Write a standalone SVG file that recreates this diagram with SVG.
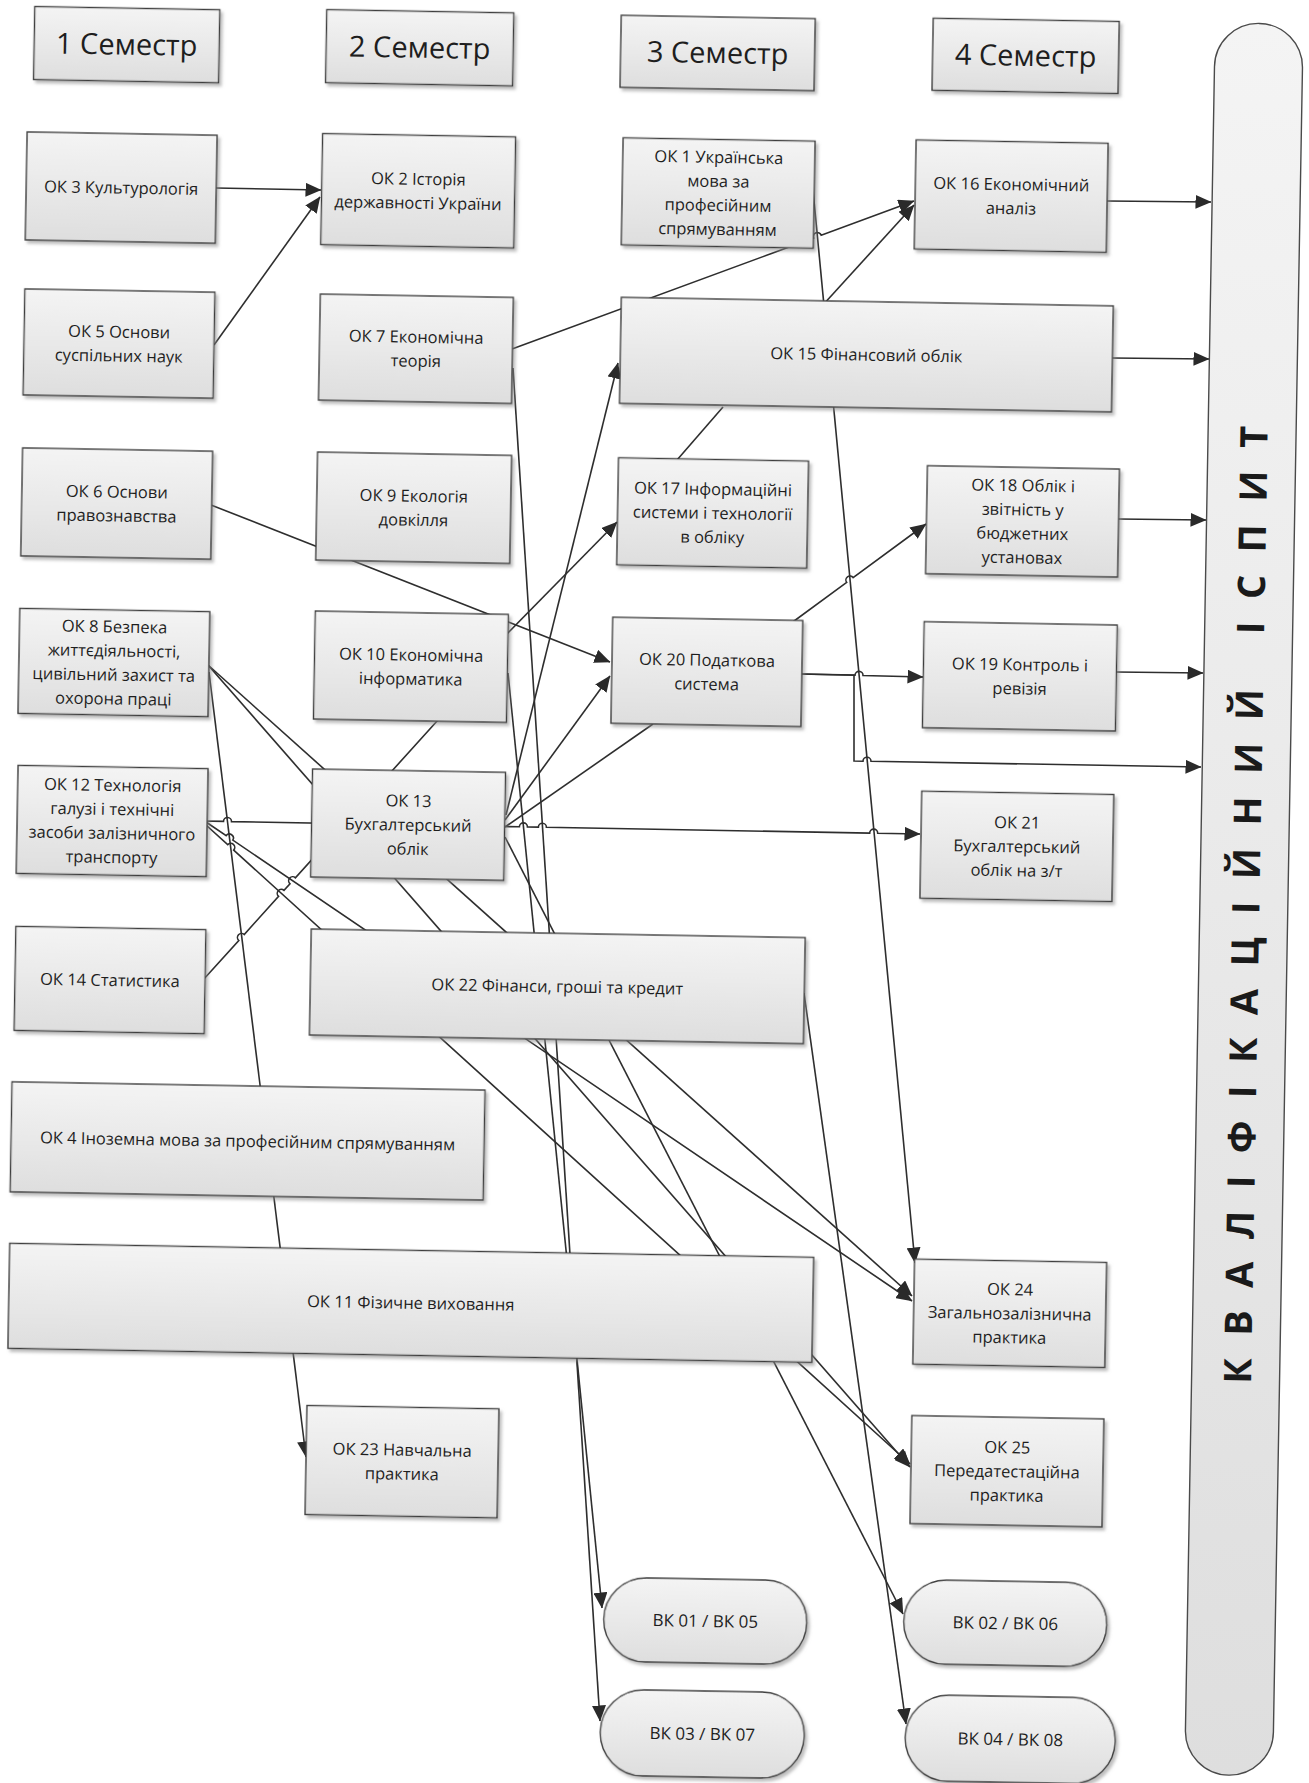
<svg xmlns="http://www.w3.org/2000/svg" width="1309" height="1783" viewBox="0 0 1309 1783">
<defs>
<linearGradient id="gb" x1="0" y1="0" x2="0" y2="1">
<stop offset="0" stop-color="#f4f4f4"/>
<stop offset="1" stop-color="#dedede"/>
</linearGradient>
<filter id="sh" x="-5%" y="-5%" width="115%" height="125%">
<feDropShadow dx="2.5" dy="3" stdDeviation="1.5" flood-color="#8a8a8a" flood-opacity="0.55"/>
</filter>
<marker id="ah" markerUnits="userSpaceOnUse" markerWidth="16" markerHeight="14" refX="15.5" refY="7" orient="auto">
<path d="M0,0 L16,7 L0,14 z" fill="#2a2a2a"/>
</marker>
<style>
.box{fill:url(#gb);stroke:#3d3d3d;stroke-width:1.4;filter:url(#sh)}
.pill{fill:url(#gb);stroke:#4a4a4a;stroke-width:1.4}
.t{font-family:"Open Sans","Noto Sans","DejaVu Sans",sans-serif;font-size:16.5px;fill:#1e1e1e;text-anchor:middle}
.h{font-size:29px}
.v{font-size:17px}
.q{font-family:"Open Sans","Noto Sans","DejaVu Sans",sans-serif;font-size:38px;font-weight:bold;fill:#1a1a1a;text-anchor:middle}
.c{fill:none;stroke:#2e2e2e;stroke-width:1.6}
.a{marker-end:url(#ah)}
</style>
</defs>
<rect width="1309" height="1783" fill="#ffffff"/>

<g id="connectors">
<path class="c a" d="M216,188 L321,190"/>
<path class="c a" d="M214,345 L320,197"/>
<path class="c a" d="M512,349 L813.6,238 A4,4 0 0 1 821.2,235.2 L914,201"/>
<path class="c a" d="M822,306 L914,205"/>
<path class="c a" d="M1107,201 L1211,202"/>
<path class="c a" d="M1112,358 L1209,359"/>
<path class="c a" d="M1118,519 L1206,520"/>
<path class="c a" d="M1116,672 L1203,673"/>
<path class="c a" d="M800,674 L855,675.3 A4,4 0 0 1 863,675.5 L923,677"/>
<path class="c a" d="M800,674 L854,675 L854,761 L863,761.2 A4,4 0 0 1 871,761.3 L1201,767"/>
<path class="c a" d="M790,624 L846.7,582.4 A4,4 0 0 1 853.1,577.6 L926,524"/>
<path class="c a" d="M200,821 L223.5,821.4 A4,4 0 0 1 231.5,821.6 L519.4,826.8 A4,4 0 0 1 527.4,826.9 L538.4,827.1 A4,4 0 0 1 546.4,827.3 L869.7,833.1 A4,4 0 0 1 877.7,833.2 L920,834"/>
<path class="c a" d="M813,190 L915,1263"/>
<path class="c a" d="M506,815 L618,363"/>
<path class="c a" d="M505,636 L617,522"/>
<path class="c a" d="M211,505 L610,662"/>
<path class="c a" d="M505,820 L610,676"/>
<path class="c" d="M505,827 L653,724"/>
<path class="c a" d="M505,837 L903,1614"/>
<path class="c a" d="M208,665 L912,1296"/>
<path class="c a" d="M208,665 L910,1467"/>
<path class="c a" d="M209,672 L306,1457"/>
<path class="c a" d="M206,822 L226.2,835.6 A4,4 0 0 1 232.8,840.1 L912,1301"/>
<path class="c a" d="M206,825 L227.7,844.7 A4,4 0 0 1 233.7,850.1 L910,1464"/>
<path class="c a" d="M804,993 L906,1724"/>
<path class="c a" d="M513,368 L600,1721"/>
<path class="c a" d="M508,673 L602,1608"/>
<path class="c" d="M203,980 L238.8,940.5 A4,4 0 0 1 244.2,934.5 L278.6,896.4 A4,4 0 0 1 284,890.4 L290,883.8 A4,4 0 0 1 295.4,877.8 L438,720"/>
<path class="c" d="M723,407 L677,460"/>
</g>

<g id="nodes" transform="rotate(1 654 891)">
<g id="sem1"><rect class="box" x="19.5" y="17.5" width="185" height="73"/><text class="t h" x="112" y="64">1 Семестр</text></g>
<g id="sem2"><rect class="box" x="311.5" y="15.5" width="187" height="73"/><text class="t h" x="405" y="62">2 Семестр</text></g>
<g id="sem3"><rect class="box" x="606" y="16" width="194" height="72"/><text class="t h" x="703" y="62">3 Семестр</text></g>
<g id="sem4"><rect class="box" x="918" y="13.5" width="186" height="72"/><text class="t h" x="1011" y="59.5">4 Семестр</text></g>

<g id="ok3"><rect class="box" x="14" y="143" width="190" height="108"/><text class="t" x="109" y="203">ОК 3 Культурологія</text></g>
<g id="ok2"><rect class="box" x="309.5" y="139.5" width="193" height="111"/><text class="t"><tspan x="406" y="189">ОК 2 Історія</tspan><tspan x="406" y="213">державності України</tspan></text></g>
<g id="ok1"><rect class="box" x="610" y="138.5" width="192" height="107"/><text class="t"><tspan x="706" y="162">ОК 1 Українська</tspan><tspan x="706" y="186">мова за</tspan><tspan x="706" y="210">професійним</tspan><tspan x="706" y="234">спрямуванням</tspan></text></g>
<g id="ok16"><rect class="box" x="903" y="135.5" width="192" height="109"/><text class="t"><tspan x="999" y="184">ОК 16 Економічний</tspan><tspan x="999" y="208">аналіз</tspan></text></g>

<g id="ok5"><rect class="box" x="14.5" y="300" width="190" height="106"/><text class="t"><tspan x="109.5" y="347">ОК 5 Основи</tspan><tspan x="109.5" y="371">суспільних наук</tspan></text></g>
<g id="ok7"><rect class="box" x="310" y="300" width="193" height="106"/><text class="t"><tspan x="406.5" y="347">ОК 7 Економічна</tspan><tspan x="406.5" y="371">теорія</tspan></text></g>
<g id="ok15"><rect class="box" x="611" y="298" width="492" height="106"/><text class="t" x="857" y="357">ОК 15 Фінансовий облік</text></g>

<g id="ok6"><rect class="box" x="15" y="459" width="190" height="108"/><text class="t"><tspan x="110" y="507">ОК 6 Основи</tspan><tspan x="110" y="531">правознавства</tspan></text></g>
<g id="ok9"><rect class="box" x="310" y="458" width="194" height="108"/><text class="t"><tspan x="407" y="506">ОК 9 Екологія</tspan><tspan x="407" y="530">довкілля</tspan></text></g>
<g id="ok17"><rect class="box" x="611" y="458.5" width="190" height="107"/><text class="t"><tspan x="706" y="494">ОК 17 Інформаційні</tspan><tspan x="706" y="518">системи і технології</tspan><tspan x="706" y="542">в обліку</tspan></text></g>
<g id="ok18"><rect class="box" x="920" y="461" width="192" height="108"/><text class="t"><tspan x="1016" y="485">ОК 18 Облік і</tspan><tspan x="1016" y="509">звітність у</tspan><tspan x="1016" y="533">бюджетних</tspan><tspan x="1016" y="557">установах</tspan></text></g>

<g id="ok8"><rect class="box" x="15" y="619.5" width="190" height="105"/><text class="t"><tspan x="110" y="642">ОК 8 Безпека</tspan><tspan x="110" y="666">життєдіяльності,</tspan><tspan x="110" y="690">цивільний захист та</tspan><tspan x="110" y="714">охорона праці</tspan></text></g>
<g id="ok10"><rect class="box" x="310.5" y="617" width="193" height="108"/><text class="t"><tspan x="407" y="665">ОК 10 Економічна</tspan><tspan x="407" y="689">інформатика</tspan></text></g>
<g id="ok20"><rect class="box" x="608" y="618" width="190" height="106"/><text class="t"><tspan x="703" y="665">ОК 20 Податкова</tspan><tspan x="703" y="689">система</tspan></text></g>
<g id="ok19"><rect class="box" x="919.5" y="617" width="193" height="106"/><text class="t"><tspan x="1016" y="664">ОК 19 Контроль і</tspan><tspan x="1016" y="688">ревізія</tspan></text></g>

<g id="ok12"><rect class="box" x="16" y="776.5" width="190" height="108"/><text class="t"><tspan x="111" y="800.5">ОК 12 Технологія</tspan><tspan x="111" y="824.5">галузі і технічні</tspan><tspan x="111" y="848.5">засоби залізничного</tspan><tspan x="111" y="872.5">транспорту</tspan></text></g>
<g id="ok13"><rect class="box" x="310.5" y="775" width="193" height="108"/><text class="t"><tspan x="407" y="811">ОК 13</tspan><tspan x="407" y="835">Бухгалтерський</tspan><tspan x="407" y="859">облік</tspan></text></g>
<g id="ok21"><rect class="box" x="920" y="786.5" width="192" height="107"/><text class="t"><tspan x="1016" y="822">ОК 21</tspan><tspan x="1016" y="846">Бухгалтерський</tspan><tspan x="1016" y="870">облік на з/т</tspan></text></g>

<g id="ok14"><rect class="box" x="16.6" y="937.5" width="190" height="104"/><text class="t" x="111.6" y="995.5">ОК 14 Статистика</text></g>
<g id="ok22"><rect class="box" x="312" y="935" width="494" height="106"/><text class="t" x="559" y="994">ОК 22 Фінанси, гроші та кредит</text></g>
<g id="ok4"><rect class="box" x="15.5" y="1093" width="473" height="110"/><text class="t" x="252" y="1154">ОК 4 Іноземна мова за професійним спрямуванням</text></g>
<g id="ok11"><rect class="box" x="16" y="1254.5" width="804" height="105"/><text class="t" x="418" y="1313">ОК 11 Фізичне виховання</text></g>
<g id="ok23"><rect class="box" x="316" y="1411.5" width="192" height="109"/><text class="t"><tspan x="412" y="1460">ОК 23 Навчальна</tspan><tspan x="412" y="1484">практика</tspan></text></g>
<g id="ok24"><rect class="box" x="921" y="1254.5" width="192" height="105"/><text class="t"><tspan x="1017" y="1289">ОК 24</tspan><tspan x="1017" y="1313">Загальнозалізнична</tspan><tspan x="1017" y="1337">практика</tspan></text></g>
<g id="ok25"><rect class="box" x="921" y="1411" width="192" height="108"/><text class="t"><tspan x="1017" y="1447">ОК 25</tspan><tspan x="1017" y="1471">Передатестаційна</tspan><tspan x="1017" y="1495">практика</tspan></text></g>

<g id="vk01"><rect class="box" x="616.5" y="1578" width="203" height="84" rx="42"/><text class="t v" x="718" y="1626">ВК 01 / ВК 05</text></g>
<g id="vk03"><rect class="box" x="615" y="1690" width="204" height="86" rx="43"/><text class="t v" x="717" y="1739">ВК 03 / ВК 07</text></g>
<g id="vk02"><rect class="box" x="916.5" y="1575" width="203" height="84" rx="42"/><text class="t v" x="1018" y="1623">ВК 02 / ВК 06</text></g>
<g id="vk04"><rect class="box" x="920" y="1690" width="210" height="86" rx="43"/><text class="t v" x="1025" y="1739">ВК 04 / ВК 08</text></g>

<g id="exam"><rect class="pill" x="1200" y="13" width="88" height="1752" rx="44"/><text class="q" transform="translate(1259.5 894.5) rotate(-90)" textLength="958" lengthAdjust="spacing">КВАЛІФІКАЦІЙНИЙ ІСПИТ</text></g>
</g>
</svg>
